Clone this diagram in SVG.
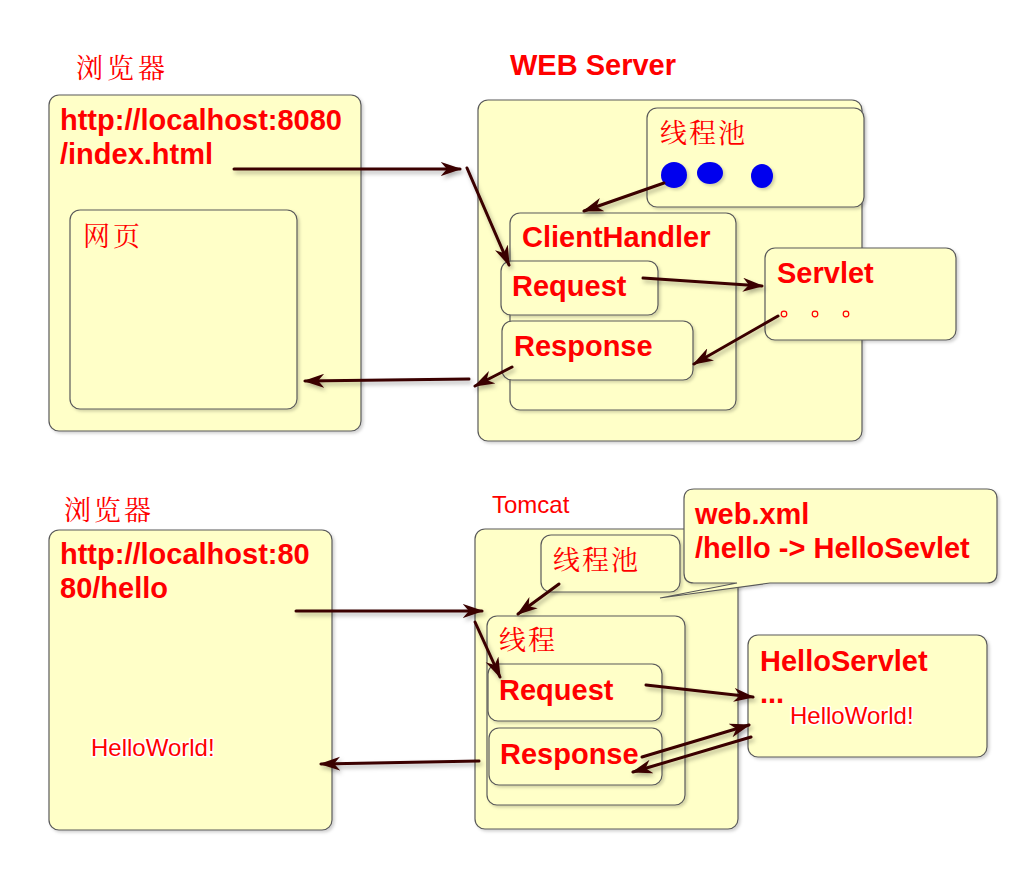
<svg xmlns="http://www.w3.org/2000/svg" width="1024" height="891" viewBox="0 0 1024 891">
<defs>
<filter id="sh" x="-10%" y="-10%" width="130%" height="130%">
<feDropShadow dx="2" dy="2" stdDeviation="1.5" flood-color="#000" flood-opacity="0.18"/>
</filter>
<filter id="ash" x="-20%" y="-50%" width="140%" height="200%">
<feDropShadow dx="2" dy="3" stdDeviation="2" flood-color="#000" flood-opacity="0.3"/>
</filter>
<marker id="ah" viewBox="0 0 12 8" markerWidth="7" markerHeight="4.8" refX="11" refY="4" orient="auto" markerUnits="strokeWidth">
<path d="M0,0 L12,4 L0,8 L3.5,4 z" fill="#3a0000"/>
</marker>
<style>
.box{fill:#ffffc8;stroke:#5a5a5a;stroke-width:1.2;filter:url(#sh)}
.b{font-family:"Liberation Sans",Arial,sans-serif;font-weight:bold;font-size:29px;fill:#ff0000}
.n{font-family:"Liberation Sans",Arial,sans-serif;font-size:24px;fill:#ff0000}
.halo{stroke:#ffffff;stroke-width:3;paint-order:stroke;stroke-linejoin:round}
.cj{font-family:"Noto Serif CJK SC","Noto Sans CJK SC",serif;font-size:27px;fill:#ff0000}
.ar{fill:none;stroke:#3a0000;stroke-width:3;stroke-linecap:round;marker-end:url(#ah)}
.dot{fill:#0000ee;filter:url(#sh)}
</style>
</defs>

<!-- ========== Top section ========== -->
<g id="browser1-label"><text class="cj" x="76" y="78" letter-spacing="4">浏览器</text></g>
<g id="browser1">
<rect class="box" x="49" y="95" width="312" height="336" rx="10"/>
<text class="b" x="60" y="130">http://localhost:8080</text>
<text class="b" x="60" y="164">/index.html</text>
</g>
<g id="webpage">
<rect class="box" x="70" y="210" width="227" height="199" rx="10"/>
<text class="cj" x="83" y="246" letter-spacing="3">网页</text>
</g>

<g id="webserver-label"><text class="b" x="510" y="75">WEB Server</text></g>
<g id="webserver">
<rect class="box" x="478" y="100" width="384" height="341" rx="10"/>
</g>
<g id="threadpool1">
<rect class="box" x="647" y="108" width="217" height="99" rx="10"/>
<text class="cj" x="660" y="143" letter-spacing="2">线程池</text>
<ellipse class="dot" cx="674" cy="175" rx="13" ry="13"/>
<ellipse class="dot" cx="710" cy="173" rx="13" ry="11"/>
<ellipse class="dot" cx="762" cy="176" rx="11" ry="12"/>
</g>
<g id="clienthandler">
<rect class="box" x="510" y="213" width="226" height="197" rx="10"/>
<text class="b" x="522" y="247">ClientHandler</text>
</g>
<g id="request1">
<rect class="box" x="501" y="261" width="157" height="54" rx="10"/>
<text class="b" x="512" y="296">Request</text>
</g>
<g id="response1">
<rect class="box" x="502" y="321" width="191" height="59" rx="10"/>
<text class="b" x="514" y="356">Response</text>
</g>
<g id="servlet">
<rect class="box" x="765" y="248" width="191" height="92" rx="10"/>
<text class="b" x="777" y="283">Servlet</text>
<circle cx="784" cy="314" r="2.8" fill="none" stroke="#ff0000" stroke-width="1.2"/>
<circle cx="815" cy="314" r="2.8" fill="none" stroke="#ff0000" stroke-width="1.2"/>
<circle cx="846" cy="314" r="2.8" fill="none" stroke="#ff0000" stroke-width="1.2"/>
</g>

<!-- ========== Bottom section ========== -->
<g id="browser2-label"><text class="cj" x="64" y="520" letter-spacing="3">浏览器</text></g>
<g id="browser2">
<rect class="box" x="49" y="530" width="283" height="300" rx="10"/>
<text class="b" x="60" y="564">http://localhost:80</text>
<text class="b" x="60" y="598">80/hello</text>
<text class="n halo" x="91" y="756">HelloWorld!</text>
</g>

<g id="tomcat-label"><text class="n" x="492" y="513">Tomcat</text></g>
<g id="tomcat">
<rect class="box" x="475" y="529" width="263" height="300" rx="10"/>
</g>
<g id="threadpool2">
<rect class="box" x="541" y="535" width="139" height="57" rx="10"/>
<text class="cj" x="553" y="570" letter-spacing="2">线程池</text>
</g>
<g id="webxml">
<path class="box" d="M694,489 H987 Q997,489 997,499 V573 Q997,583 987,583 H770 L660,598 L737,583 H694 Q684,583 684,573 V499 Q684,489 694,489 Z"/>
<text class="b" x="695" y="524">web.xml</text>
<text class="b" x="695" y="558">/hello -&gt; HelloSevlet</text>
</g>
<g id="thread">
<rect class="box" x="487" y="616" width="198" height="189" rx="10"/>
<text class="cj" x="499" y="650" letter-spacing="2">线程</text>
</g>
<g id="request2">
<rect class="box" x="488" y="664" width="174" height="57" rx="10"/>
<text class="b" x="499" y="700">Request</text>
</g>
<g id="response2">
<rect class="box" x="489" y="728" width="173" height="57" rx="10"/>
<text class="b" x="500" y="764">Response</text>
</g>
<g id="helloservlet">
<rect class="box" x="748" y="635" width="239" height="122" rx="10"/>
<text class="b" x="760" y="671">HelloServlet</text>
<text class="b" x="760" y="703">...</text>
<text class="n halo" x="790" y="724">HelloWorld!</text>
</g>

<!-- ========== Connectors ========== -->
<g id="connectors" filter="url(#ash)">
<line class="ar" x1="234" y1="169" x2="460" y2="169"/>
<line class="ar" x1="467" y1="168" x2="509" y2="265"/>
<line class="ar" x1="664" y1="183" x2="584" y2="211"/>
<line class="ar" x1="643" y1="278" x2="762" y2="286"/>
<line class="ar" x1="778" y1="316" x2="694" y2="364"/>
<line class="ar" x1="512" y1="367" x2="475" y2="386"/>
<line class="ar" x1="469" y1="379" x2="305" y2="381"/>

<line class="ar" x1="296" y1="611" x2="482" y2="611"/>
<line class="ar" x1="475" y1="622" x2="500" y2="677"/>
<line class="ar" x1="559" y1="584" x2="518" y2="614"/>
<line class="ar" x1="646" y1="685" x2="753" y2="697"/>
<line class="ar" x1="642" y1="757" x2="749" y2="725"/>
<line class="ar" x1="751" y1="737" x2="633" y2="772"/>
<line class="ar" x1="479" y1="761" x2="321" y2="764"/>
</g>
</svg>
